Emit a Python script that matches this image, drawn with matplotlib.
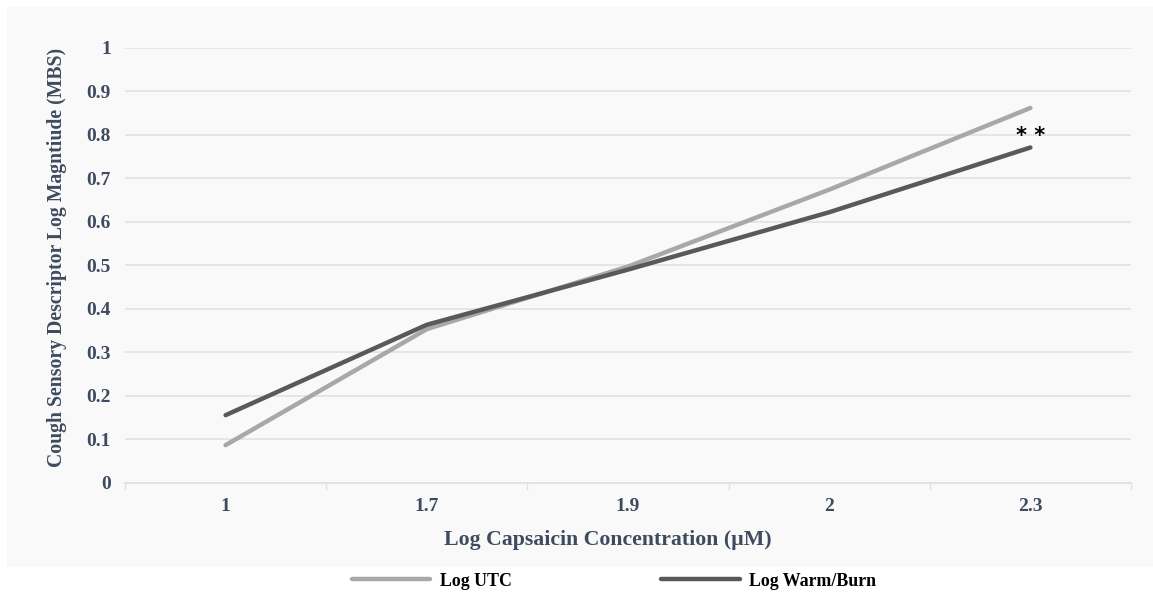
import matplotlib
matplotlib.use("Agg")
import matplotlib.pyplot as plt
from matplotlib.patches import Rectangle

# Data
concentrations = ["1", "1.7", "1.9", "2", "2.3"]
log_utc = [0.086, 0.353, 0.497, 0.674, 0.862]
log_warm_burn = [0.155, 0.363, 0.490, 0.622, 0.771]
series_names = ["Log UTC", "Log Warm/Burn"]
y_ticks = [0, 0.1, 0.2, 0.3, 0.4, 0.5, 0.6, 0.7, 0.8, 0.9, 1]
y_tick_labels = ["0", "0.1", "0.2", "0.3", "0.4", "0.5", "0.6", "0.7", "0.8", "0.9", "1"]

W, H = 1153, 592
fig = plt.figure(figsize=(W / 100, H / 100), dpi=100)
fig.patch.set_facecolor("white")

serif = ["Liberation Serif", "DejaVu Serif"]
label_color = "#3e4a5e"
grid_color = "#dde2ea"
light = "#a8a8a8"
dark = "#595959"

# Chart panel background
fig.patches.append(Rectangle((7 / W, (H - 567) / H), (W - 7) / W, 560 / H,
                             transform=fig.transFigure, facecolor="#f9f9fa",
                             edgecolor="none", zorder=-5))

ax = fig.add_axes([125 / W, (H - 482.5) / H, 1006 / W, 434.5 / H])
ax.set_zorder(2)
ax.set_facecolor("none")

x = list(range(len(concentrations)))
l1, = ax.plot(x, log_utc, color=light, lw=3.2, solid_capstyle="round",
              solid_joinstyle="round", zorder=3)
l2, = ax.plot(x, log_warm_burn, color=dark, lw=3.2, solid_capstyle="round",
              solid_joinstyle="round", zorder=4)

# significance marker at the highest concentration
ax.text(x[-1], log_warm_burn[-1] + 0.026, "* *", ha="center", va="center",
        fontsize=15, fontweight="bold", color="black", family=["DejaVu Sans"])

ax.set_xlim(-0.5, len(concentrations) - 0.5)
ax.set_ylim(0, 1)
ax.set_yticks(y_ticks)
ax.set_yticklabels(y_tick_labels)
ax.set_xticks(x)
ax.set_xticklabels(concentrations)
ax.set_xticks([i - 0.5 for i in range(len(concentrations) + 1)], minor=True)

ax.tick_params(axis="y", length=0, pad=10, labelsize=14, labelcolor=label_color)
ax.tick_params(axis="x", which="major", length=0, pad=11, labelsize=14,
               labelcolor=label_color)
ax.tick_params(axis="x", which="minor", length=5, width=1, color=grid_color)
for lab in ax.get_xticklabels() + ax.get_yticklabels():
    lab.set_family(serif)
    lab.set_fontweight("bold")

ax.grid(axis="y", color=grid_color, lw=1.2, zorder=1)
ax.set_axisbelow(True)
for s in ["top", "right", "left"]:
    ax.spines[s].set_visible(False)
ax.spines["bottom"].set_color(grid_color)
ax.spines["bottom"].set_linewidth(1.2)

ax.set_xlabel("Log Capsaicin Concentration (\u00b5M)", family=serif,
              fontweight="bold", fontsize=15.7, color=label_color, labelpad=11)
ax.xaxis.label.set_x(0.48)
ax.set_ylabel("Cough Sensory Descriptor Log Magntiude (MBS)", family=serif,
              fontweight="bold", fontsize=14.2, color=label_color, labelpad=14)
ax.yaxis.label.set_y(0.518)

# Legend below the panel
fig.legend([l1, l2], series_names, loc="center",
           bbox_to_anchor=(614 / W, (H - 581) / H), ncol=2, frameon=False,
           handlelength=4.4, handletextpad=0.55, columnspacing=8.3,
           prop={"family": serif, "weight": "bold", "size": 12.9})

fig.savefig("out.png", dpi=100, facecolor="white")
